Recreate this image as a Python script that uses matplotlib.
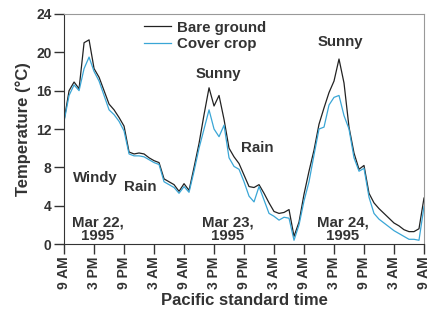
import matplotlib
matplotlib.use("Agg")
import matplotlib.pyplot as plt

plt.rcParams['font.family'] = ['Liberation Sans', 'DejaVu Sans']
plt.rcParams['font.weight'] = 'bold'

# heures depuis le 22 mars, 9 AM
heures = list(range(73))

bare = [12.9, 16.0, 16.9, 16.2, 21.0, 21.3, 18.3, 17.4, 16.0, 14.6,
        14.0, 13.2, 12.3, 9.6, 9.4, 9.5, 9.4, 9.0, 8.7, 8.5,
        6.8, 6.5, 6.2, 5.5, 6.3, 5.6, 8.0, 10.5, 13.5, 16.3,
        14.4, 15.5, 13.0, 10.0, 9.1, 8.4, 7.2, 6.0, 5.9, 6.2,
        5.3, 4.3, 3.4, 3.2, 3.3, 3.6, 0.8, 2.3, 5.2, 7.6,
        9.8, 12.5, 14.2, 15.8, 17.0, 19.3, 16.8, 12.2, 9.5, 7.8,
        8.2, 5.3, 4.3, 3.7, 3.2, 2.7, 2.2, 1.9, 1.5, 1.3,
        1.3, 1.6, 4.8]

cover = [12.8, 15.5, 16.6, 16.0, 18.3, 19.5, 18.0, 17.0, 15.5, 14.0,
         13.5, 12.8, 11.8, 9.4, 9.2, 9.2, 9.1, 8.8, 8.5, 8.3,
         6.5, 6.2, 5.9, 5.3, 6.0, 5.4, 7.6, 10.0, 12.0, 14.0,
         12.0, 11.2, 12.4, 9.0, 8.1, 7.8, 6.5, 5.0, 4.4, 6.0,
         4.6, 3.2, 2.9, 2.5, 2.8, 2.7, 0.4, 2.0, 4.5, 6.5,
         9.3, 12.0, 12.2, 14.5, 15.3, 15.5, 13.4, 12.0, 9.0, 7.6,
         7.9, 4.9, 3.2, 2.6, 2.2, 1.8, 1.4, 1.1, 0.8, 0.5,
         0.5, 0.4, 3.9]

ticks_x = list(range(0, 73, 6))
labels_x = ['9 AM', '3 PM', '9 PM', '3 AM'] * 3 + ['9 AM']
ticks_y = [0, 4, 8, 12, 16, 20, 24]

gris = '#333333'

fig = plt.figure(figsize=(4.3, 3.17), dpi=100)
ax = fig.add_axes([0.149, 0.230, 0.837, 0.726])

ax.plot(heures, bare, color='#222222', lw=0.9, label='Bare ground')
ax.plot(heures, cover, color='#3aa6d6', lw=0.9, label='Cover crop')

ax.set_xlim(0, 72)
ax.set_ylim(0, 24)
ax.set_xticks(ticks_x)
ax.set_xticklabels(labels_x, rotation=90)
ax.set_yticks(ticks_y)
ax.tick_params(direction='out', length=7, width=1, color=gris,
               labelsize=10, labelcolor=gris, pad=2)

for s in ['top', 'right']:
    ax.spines[s].set_color('#999999')
    ax.spines[s].set_linewidth(0.8)
for s in ['left', 'bottom']:
    ax.spines[s].set_color(gris)
    ax.spines[s].set_linewidth(0.8)

ax.set_xlabel('Pacific standard time', fontsize=12, fontweight='bold',
              color=gris, labelpad=3)
ax.set_ylabel('Temperature (\u00b0C)', fontsize=12, fontweight='bold',
              color=gris, labelpad=4)

# annotations
txt = dict(fontsize=10.8, color=gris, ha='center', va='center')
ax.text(6.2, 6.9, 'Windy', **txt)
ax.text(15.2, 6.0, 'Rain', **txt)
ax.text(30.8, 17.7, 'Sunny', **txt)
ax.text(38.6, 10.0, 'Rain', **txt)
ax.text(55.2, 21.1, 'Sunny', **txt)
ax.text(6.8, 1.5, 'Mar 22,\n1995', linespacing=0.95, **txt)
ax.text(32.8, 1.5, 'Mar 23,\n1995', linespacing=0.95, **txt)
ax.text(55.8, 1.5, 'Mar 24,\n1995', linespacing=0.95, **txt)

leg = ax.legend(loc='upper left', bbox_to_anchor=(0.206, 0.997), frameon=False,
                fontsize=10.8, handlelength=1.8, handletextpad=0.4,
                labelspacing=0.15, borderaxespad=0)
for t in leg.get_texts():
    t.set_color(gris)

fig.savefig('out.png', dpi=100)
